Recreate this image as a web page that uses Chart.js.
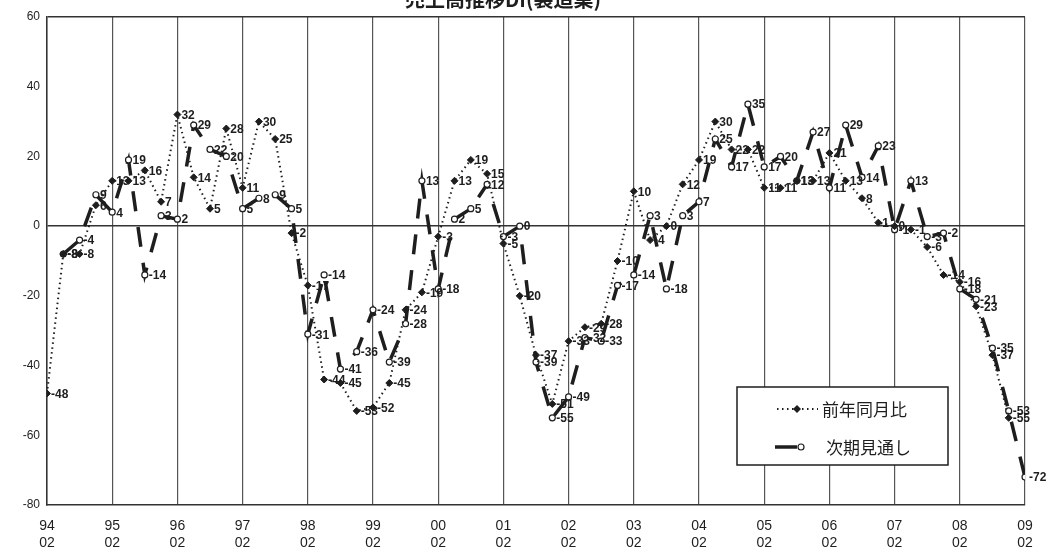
<!DOCTYPE html>
<html lang="ja">
<head>
<meta charset="utf-8">
<title>売上高推移DI（製造業）</title>
<script src="https://cdn.jsdelivr.net/npm/chart.js@4.4.1/dist/chart.umd.min.js"></script>
<style>
  html, body { margin: 0; padding: 0; background: #fff; }
  #wrap { width: 1052px; height: 558px; }
</style>
</head>
<body>
<div id="wrap"><canvas id="chart" width="1052" height="558"></canvas></div>
<script>
// 四半期ごと（2・5・8・11月）、94年2月〜09年2月
const years = ['94', '95', '96', '97', '98', '99', '00', '01', '02', '03', '04', '05', '06', '07', '08', '09'];
const month = '02';

// 前年同月比
const actual = [
  -48, -8, -8, 6, 13, 13, 16, 7, 32, 14, 5, 28, 11, 30, 25, -2,
  -17, -44, -45, -53, -52, -45, -24, -19, -3, 13, 19, 15, -5, -20, -37, -51,
  -33, -29, -28, -10, 10, -4, 0, 12, 19, 30, 22, 22, 11, 11, 13, 13,
  21, 13, 8, 1, 0, -1, -6, -14, -16, -23, -37, -55, null
];

// 次期見通し
const outlook = [
  null, -8, -4, 9, 4, 19, -14, 3, 2, 29, 22, 20, 5, 8, 9, 5,
  -31, -14, -41, -36, -24, -39, -28, 13, -18, 2, 5, 12, -3, 0, -39, -55,
  -49, -32, -33, -17, -14, 3, -18, 3, 7, 25, 17, 35, 17, 20, 13, 27,
  11, 29, 14, 23, -1, 13, -3, -2, -18, -21, -35, -53, -72
];

const ink = '#1e1e1e';
const toPoints = arr => arr.map((v, i) => ({ x: i, y: v }));

// 各点の右に値を書く
const valueLabels = {
  id: 'valueLabels',
  afterDatasetsDraw(chart) {
    const ctx = chart.ctx;
    ctx.save();
    ctx.font = 'bold 12px "Liberation Sans Narrow", "Liberation Sans", Arial, sans-serif';
    ctx.fillStyle = ink;
    ctx.textAlign = 'left';
    ctx.textBaseline = 'middle';
    chart.data.datasets.forEach((ds, di) => {
      chart.getDatasetMeta(di).data.forEach((pt, i) => {
        const v = ds.data[i].y;
        if (v === null || v === undefined) return;
        ctx.fillText(String(v), pt.x + 4, pt.y + 1);
      });
    });
    ctx.restore();
  }
};

// 上端のタイトル
const topTitle = {
  id: 'topTitle',
  afterDraw(chart) {
    const ctx = chart.ctx;
    ctx.save();
    ctx.font = 'bold 20px "Noto Sans CJK JP", sans-serif';
    ctx.fillStyle = ink;
    ctx.textAlign = 'center';
    ctx.textBaseline = 'alphabetic';
    ctx.fillText('売上高推移DI(製造業)', 503, 7);
    ctx.restore();
  }
};

// 枠付きの凡例（グラフ内右下）
const boxLegend = {
  id: 'boxLegend',
  afterDraw(chart) {
    const ctx = chart.ctx;
    const [a, b] = chart.data.datasets;
    const x = 737, y = 387, w = 211, h = 78;
    ctx.save();
    ctx.fillStyle = '#fff';
    ctx.fillRect(x, y, w, h);
    ctx.strokeStyle = ink;
    ctx.lineWidth = 1.5;
    ctx.strokeRect(x, y, w, h);

    // 前年同月比
    const ly = y + 22;
    ctx.strokeStyle = a.borderColor;
    ctx.lineWidth = a.borderWidth;
    ctx.setLineDash(a.borderDash);
    ctx.beginPath();
    ctx.moveTo(777, ly);
    ctx.lineTo(818, ly);
    ctx.stroke();
    ctx.setLineDash([]);
    ctx.fillStyle = a.pointBackgroundColor;
    ctx.beginPath();
    ctx.moveTo(797, ly - 4);
    ctx.lineTo(801, ly);
    ctx.lineTo(797, ly + 4);
    ctx.lineTo(793, ly);
    ctx.closePath();
    ctx.fill();

    // 次期見通し
    const ly2 = y + 60;
    ctx.strokeStyle = b.borderColor;
    ctx.lineWidth = b.borderWidth;
    ctx.beginPath();
    ctx.moveTo(775, ly2);
    ctx.lineTo(797, ly2);
    ctx.stroke();
    ctx.lineWidth = 1.2;
    ctx.fillStyle = '#fff';
    ctx.beginPath();
    ctx.arc(801, ly2, 3, 0, Math.PI * 2);
    ctx.fill();
    ctx.stroke();

    ctx.fillStyle = ink;
    ctx.font = '17px "Noto Sans CJK JP", sans-serif';
    ctx.textAlign = 'left';
    ctx.textBaseline = 'middle';
    ctx.fillText('前年同月比', 822, ly + 1);
    ctx.fillText('次期見通し', 826, ly2 + 1);
    ctx.restore();
  }
};

new Chart(document.getElementById('chart'), {
  type: 'line',
  data: {
    datasets: [
      {
        label: '前年同月比',
        data: toPoints(actual),
        borderColor: ink,
        borderWidth: 2,
        borderDash: [1.5, 3.5],
        pointStyle: 'rectRot',
        pointRadius: 3.5,
        pointBackgroundColor: ink,
        pointBorderColor: ink,
        pointBorderWidth: 1,
        tension: 0,
        spanGaps: false
      },
      {
        label: '次期見通し',
        data: toPoints(outlook),
        borderColor: ink,
        borderWidth: 3.5,
        borderDash: [20, 16],
        pointStyle: 'circle',
        pointRadius: 3,
        pointBackgroundColor: '#fff',
        pointBorderColor: ink,
        pointBorderWidth: 1.2,
        tension: 0,
        spanGaps: false
      }
    ]
  },
  options: {
    responsive: false,
    animation: false,
    devicePixelRatio: 1,
    layout: { padding: { top: 17, right: 27, bottom: 0, left: 0 } },
    plugins: {
      legend: { display: false },
      title: { display: false },
      tooltip: { enabled: false }
    },
    scales: {
      x: {
        type: 'linear',
        min: 0,
        max: 60,
        afterFit(scale) { scale.height = 53; },
        ticks: {
          stepSize: 4,
          autoSkip: false,
          maxRotation: 0,
          padding: 13,
          color: ink,
          font: { size: 14, family: '"Liberation Sans", Arial, sans-serif', lineHeight: 1.2 },
          callback: v => (v % 4 === 0 ? [years[v / 4], month] : null)
        },
        grid: { color: '#555', lineWidth: 1.2, drawTicks: false },
        border: { color: '#333', width: 1.5 }
      },
      y: {
        min: -80,
        max: 60,
        afterFit(scale) { scale.width = 47; },
        ticks: {
          stepSize: 20,
          padding: 7,
          color: ink,
          font: { size: 12, family: '"Liberation Sans", Arial, sans-serif' }
        },
        grid: {
          drawTicks: false,
          lineWidth: 1.4,
          color: c => (c.tick.value === 0 || c.tick.value === 60 ? '#333' : 'rgba(0,0,0,0)')
        },
        border: { color: '#333', width: 1.5 }
      }
    }
  },
  plugins: [valueLabels, topTitle, boxLegend]
});
</script>
</body>
</html>
